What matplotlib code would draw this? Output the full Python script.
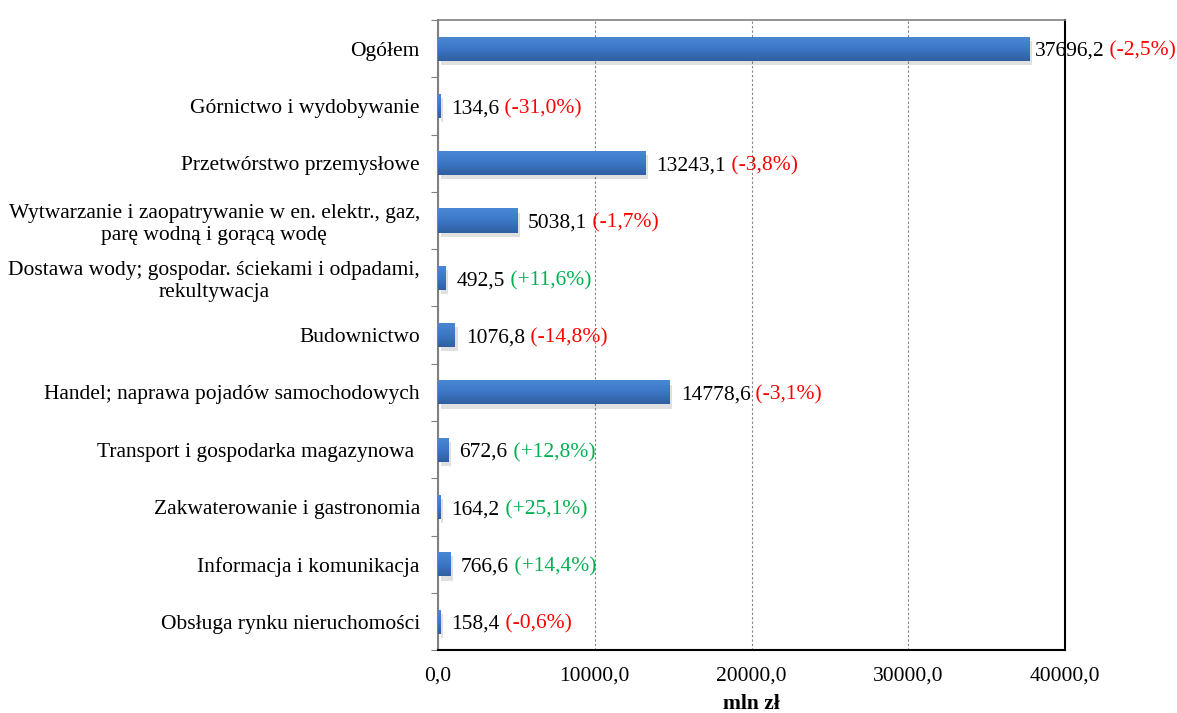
import numpy as np
import matplotlib
matplotlib.use("Agg")
import matplotlib.pyplot as plt
import matplotlib.patheffects as pe
from matplotlib.colors import LinearSegmentedColormap

plt.rcParams['font.family'] = ['Liberation Serif', 'DejaVu Serif']

categories = [
    "Ogółem",
    "Górnictwo i wydobywanie",
    "Przetwórstwo przemysłowe",
    "Wytwarzanie i zaopatrywanie w en. elektr., gaz,\nparę wodną i gorącą wodę",
    "Dostawa wody; gospodar. ściekami i odpadami,\nrekultywacja",
    "Budownictwo",
    "Handel; naprawa pojadów samochodowych",
    "Transport i gospodarka magazynowa ",
    "Zakwaterowanie i gastronomia",
    "Informacja i komunikacja",
    "Obsługa rynku nieruchomości",
]
values = [37696.2, 134.6, 13243.1, 5038.1, 492.5, 1076.8, 14778.6, 672.6, 164.2, 766.6, 158.4]
changes = [-2.5, -31.0, -3.8, -1.7, 11.6, -14.8, -3.1, 12.8, 25.1, 14.4, -0.6]
x_ticks = [0, 10000, 20000, 30000, 40000]

FS = 15.5

def pl(v, plus=False):
    s = f"{v:+.1f}" if plus else f"{v:.1f}"
    return s.replace(".", ",")

fig = plt.figure(figsize=(11.77, 7.13), dpi=100)
ax = fig.add_axes([0.372, 0.088, 0.533, 0.884])

y = np.arange(len(categories))
bars = ax.barh(y, values, height=0.42, color="#3C76C4", zorder=3,
               path_effects=[pe.SimplePatchShadow(offset=(2, -3), alpha=0.15, shadow_rgbFace="#333333"),
                             pe.Normal()])

# gradient fill, lighter at the top of each bar, darker at the bottom
cmap = LinearSegmentedColormap.from_list("bar", ["#4A88D4", "#3D78C6", "#2F5F9F"])
grad = np.linspace(0, 1, 64).reshape(-1, 1)
for b in bars:
    x0, y0 = b.get_x(), b.get_y()
    im = ax.imshow(grad, cmap=cmap, aspect="auto", zorder=4, origin="lower",
                   extent=(x0, x0 + b.get_width(), y0, y0 + b.get_height()))
    im.set_clip_path(b)

ax.set_xlim(0, 40000)
ax.set_ylim(len(categories) - 0.5, -0.5)

# labels: value in black, change in red/green
fig.canvas.draw()
renderer = fig.canvas.get_renderer()
fig_w = fig.bbox.width
for i, (v, c) in enumerate(zip(values, changes)):
    t = ax.annotate(pl(v), xy=(v, i), xytext=(8, -2), textcoords="offset points",
                    va="center", ha="left", fontsize=FS, color="black")
    col = "#FF0000" if c < 0 else "#00B050"
    p = ax.annotate(" (" + pl(c, plus=c > 0) + "%)", xy=(1, 0), xycoords=t,
                    va="bottom", ha="left", fontsize=FS, color=col)
    # pull the label back if it would run past the figure edge
    over = p.get_window_extent(renderer).x1 - (fig_w - 1)
    if over > 0:
        t.set_position((8 - over * 72 / fig.dpi, -2))

# category labels on minor ticks, tick marks between categories
ax.set_yticks(np.arange(len(categories) + 1) - 0.5)
ax.set_yticklabels([])
ax.set_yticks(y, minor=True)
ax.set_yticklabels(categories, minor=True, fontsize=FS, multialignment="center",
                   linespacing=1.2)
ax.tick_params(axis="y", which="major", length=5, color="#808080", direction="out")
ax.tick_params(axis="y", which="minor", length=0, pad=13)

ax.set_xticks(x_ticks)
ax.set_xticklabels([pl(t) for t in x_ticks], fontsize=FS)
ax.tick_params(axis="x", length=0, pad=12)
ax.set_xlabel("mln zł", fontsize=FS, fontweight="bold", labelpad=6)

ax.grid(axis="x", color="#808080", linestyle=(0, (2, 2)), linewidth=0.8, zorder=0)
ax.spines["left"].set_color("#808080")
ax.spines["top"].set_color("#808080")
ax.spines["right"].set_color("black")
ax.spines["bottom"].set_color("black")
ax.spines["left"].set_linewidth(1.5)
ax.spines["top"].set_linewidth(1.2)
ax.spines["right"].set_linewidth(1.5)
ax.spines["bottom"].set_linewidth(1.5)

fig.savefig("out.png", dpi=100)
